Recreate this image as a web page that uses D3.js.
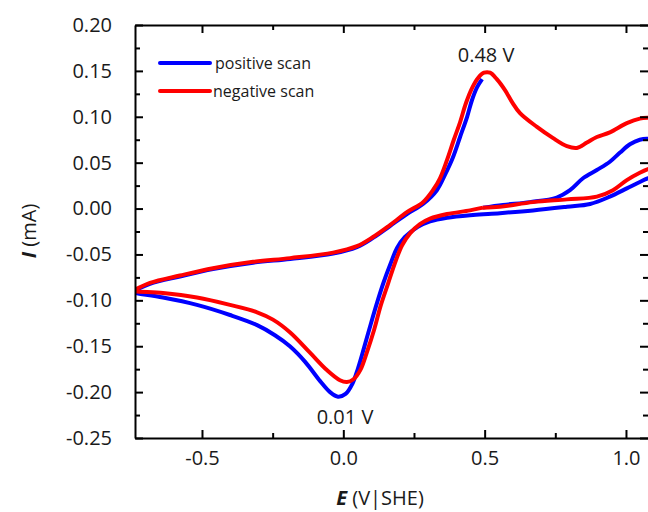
<!DOCTYPE html>
<html>
<head>
<meta charset="utf-8">
<script src="https://cdn.jsdelivr.net/npm/d3@7"></script>
<style>
  body { margin: 0; background: #fff; }
  text { font-family: "Open Sans", sans-serif; fill: #1a1a1a; }
</style>
</head>
<body>
<div id="chart"></div>
<script>
// positive scan (blue): starts near OCP, goes to +E, back to -E, ends at anodic peak
const blueE = [0.494, 0.565, 0.660, 0.755, 0.802, 0.848, 0.897, 0.943, 0.979, 1.014, 1.049, 1.078, 1.10, 1.10,
  1.078, 1.049, 1.003, 0.943, 0.873, 0.791, 0.671, 0.554, 0.459, 0.367, 0.307, 0.264, 0.218, 0.190, 0.166,
  0.143, 0.120, 0.097, 0.074, 0.052, 0.032, 0.008, -0.019, -0.047, -0.082, -0.135, -0.189, -0.242, -0.305, -0.401,
  -0.518, -0.638, -0.737, -0.75,
  -0.737, -0.684, -0.578, -0.461, -0.319, -0.188, -0.036, 0.048, 0.105, 0.165, 0.225, 0.282,
  0.331, 0.360, 0.388, 0.413, 0.438, 0.455, 0.473, 0.491];
const blueI = [0.001, 0.004, 0.007, 0.012, 0.020, 0.033, 0.042, 0.051, 0.061, 0.070, 0.075, 0.076, 0.074, 0.034,
  0.033, 0.029, 0.022, 0.013, 0.005, 0.002, -0.002, -0.005, -0.007, -0.010, -0.014, -0.020, -0.031, -0.043, -0.061,
  -0.080, -0.102, -0.126, -0.151, -0.174, -0.191, -0.202, -0.205, -0.200, -0.188, -0.167, -0.150, -0.138, -0.127, -0.116,
  -0.105, -0.097, -0.092, -0.091,
  -0.089, -0.082, -0.074, -0.066, -0.059, -0.055, -0.049, -0.042, -0.032, -0.019, -0.006, 0.005,
  0.020, 0.037, 0.056, 0.078, 0.100, 0.118, 0.132, 0.141];

// negative scan (red): starts near OCP, goes to -E, up through anodic peak to +E, back to OCP
const redE = [0.494, 0.448, 0.367, 0.307, 0.271, 0.236, 0.208, 0.183, 0.158, 0.133, 0.109, 0.084, 0.060, 0.036, 0.013,
  -0.012, -0.058, -0.118, -0.188, -0.249, -0.305, -0.401, -0.518, -0.638, -0.737, -0.75, -0.737, -0.684, -0.578, -0.461,
  -0.319, -0.188, -0.036, 0.048, 0.105, 0.165, 0.225, 0.282, 0.317, 0.342, 0.367, 0.391, 0.413, 0.434, 0.455, 0.476,
  0.498, 0.519, 0.543, 0.572, 0.597, 0.625, 0.685, 0.741, 0.791, 0.826, 0.862, 0.897, 0.943, 1.003, 1.049, 1.078, 1.10,
  1.10, 1.078, 1.049, 1.003, 0.954, 0.897, 0.791, 0.671, 0.554, 0.494];
const redI = [0.001, -0.002, -0.006, -0.011, -0.017, -0.027, -0.040, -0.059, -0.082, -0.105, -0.132, -0.156, -0.176, -0.186, -0.189,
  -0.187, -0.176, -0.157, -0.135, -0.121, -0.113, -0.105, -0.097, -0.092, -0.090, -0.089, -0.088, -0.081, -0.073, -0.065,
  -0.058, -0.054, -0.048, -0.041, -0.031, -0.018, -0.004, 0.007, 0.020, 0.033, 0.053, 0.075, 0.094, 0.115, 0.131, 0.142,
  0.148, 0.148, 0.141, 0.129, 0.116, 0.104, 0.089, 0.077, 0.068, 0.066, 0.072, 0.078, 0.083, 0.093, 0.098, 0.099, 0.099,
  0.045, 0.043, 0.039, 0.031, 0.020, 0.013, 0.010, 0.007, 0.002, 0.001];

const xTicks = [-0.5, 0.0, 0.5, 1.0];
const xMinor = [-0.25, 0.25, 0.75];
const yTicks = [-0.25, -0.20, -0.15, -0.10, -0.05, 0.00, 0.05, 0.10, 0.15, 0.20];
const yMinor = [-0.225, -0.175, -0.125, -0.075, -0.025, 0.025, 0.075, 0.125, 0.175];

const series = [
  { name: "positive scan", color: "#0000ff", E: blueE, I: blueI },
  { name: "negative scan", color: "#ff0000", E: redE, I: redI }
];
const peakLabels = [
  { text: "0.48 V", E: 0.505, I: 0.148, dy: -11 },
  { text: "0.01 V", E: 0.006, I: -0.205, dy: 27 }
];

const width = 648, height = 512;
const margin = { left: 135, right: 650, top: 25, bottom: 438 };

const x = d3.scaleLinear().domain([-0.737, 1.085]).range([margin.left, margin.right]);
const y = d3.scaleLinear().domain([-0.25, 0.20]).range([margin.bottom, margin.top]);

const svg = d3.select("#chart").append("svg")
  .attr("width", width)
  .attr("height", height);

svg.append("clipPath").attr("id", "plot")
  .append("rect")
  .attr("x", margin.left).attr("y", margin.top)
  .attr("width", margin.right - margin.left).attr("height", margin.bottom - margin.top);

// curves
const line = d3.line()
  .x(d => x(d[0]))
  .y(d => y(d[1]))
  .curve(d3.curveCatmullRom.alpha(0.5));

svg.append("g").attr("clip-path", "url(#plot)")
  .selectAll("path")
  .data(series)
  .join("path")
  .attr("d", s => line(s.E.map((e, i) => [e, s.I[i]])))
  .attr("fill", "none")
  .attr("stroke", s => s.color)
  .attr("stroke-width", 4)
  .attr("stroke-linejoin", "round");

// axes with inward ticks
function styleAxis(g) {
  g.select(".domain").attr("stroke", "#000").attr("stroke-width", 2);
  g.selectAll(".tick line").attr("stroke", "#000").attr("stroke-width", 2);
}

function tickAxis(axis, pos, values, size, withDomain) {
  svg.append("g").attr("transform", pos)
    .call(axis.tickValues(values).tickSize(size).tickSizeOuter(0).tickFormat(""))
    .call(g => { if (!withDomain) g.select(".domain").remove(); })
    .call(styleAxis);
}

tickAxis(d3.axisTop(x), `translate(0,${margin.bottom})`, xTicks, 8, true);
tickAxis(d3.axisTop(x), `translate(0,${margin.bottom})`, xMinor, 5, false);
tickAxis(d3.axisBottom(x), `translate(0,${margin.top})`, xTicks, 8, true);
tickAxis(d3.axisBottom(x), `translate(0,${margin.top})`, xMinor, 5, false);
tickAxis(d3.axisRight(y), `translate(${margin.left},0)`, yTicks, 8, true);
tickAxis(d3.axisRight(y), `translate(${margin.left},0)`, yMinor, 5, false);
tickAxis(d3.axisLeft(y), `translate(${margin.right},0)`, yTicks, 10, true);
tickAxis(d3.axisLeft(y), `translate(${margin.right},0)`, yMinor, 7, false);

// tick labels
svg.append("g").attr("transform", `translate(0,${margin.bottom})`)
  .call(d3.axisBottom(x).tickValues(xTicks).tickSize(0).tickPadding(13).tickFormat(d => d.toFixed(1)))
  .call(g => g.select(".domain").remove())
  .call(g => g.selectAll("text").style("font-size", "20px").attr("fill", "#1a1a1a"));
svg.append("g").attr("transform", `translate(${margin.left},0)`)
  .call(d3.axisLeft(y).tickValues(yTicks).tickSize(0).tickPadding(23).tickFormat(d => d.toFixed(2)))
  .call(g => g.select(".domain").remove())
  .call(g => g.selectAll("text").style("font-size", "20px").attr("fill", "#1a1a1a"));

// axis titles
const xTitle = svg.append("text")
  .attr("x", 380).attr("y", 505)
  .attr("text-anchor", "middle")
  .style("font-size", "20px");
xTitle.append("tspan").style("font-weight", "bold").style("font-style", "italic").text("E");
xTitle.append("tspan").text(" (V|SHE)");

const yTitle = svg.append("text")
  .attr("transform", "translate(36,231) rotate(-90)")
  .attr("text-anchor", "middle")
  .style("font-size", "20px");
yTitle.append("tspan").style("font-weight", "bold").style("font-style", "italic").text("I");
yTitle.append("tspan").text(" (mA)");

// peak labels
svg.selectAll(".peak")
  .data(peakLabels)
  .join("text")
  .attr("class", "peak")
  .attr("x", d => x(d.E))
  .attr("y", d => y(d.I) + d.dy)
  .attr("text-anchor", "middle")
  .style("font-size", "20px")
  .text(d => d.text);

// legend
const legend = svg.append("g").attr("transform", "translate(160,63)");
legend.selectAll("line")
  .data(series)
  .join("line")
  .attr("x1", 0).attr("x2", 50)
  .attr("y1", (d, i) => i * 28).attr("y2", (d, i) => i * 28)
  .attr("stroke", d => d.color)
  .attr("stroke-width", 4)
  .attr("stroke-linecap", "round");
legend.selectAll("text")
  .data(series)
  .join("text")
  .attr("x", (d, i) => i === 0 ? 55 : 53)
  .attr("y", (d, i) => i * 28 + 6)
  .style("font-size", "16px")
  .text(d => d.name);
</script>
</body>
</html>
